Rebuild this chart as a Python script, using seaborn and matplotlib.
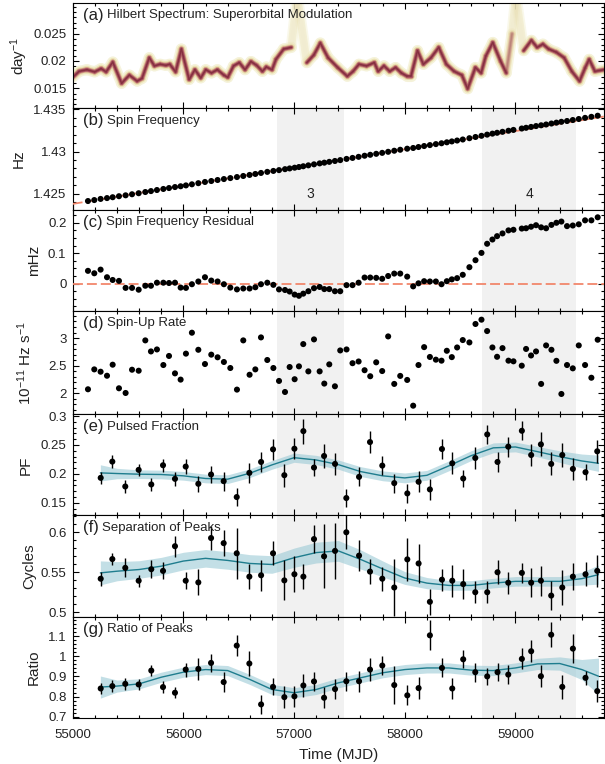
import numpy as np
import pandas as pd
import matplotlib
matplotlib.use("Agg")
import matplotlib.pyplot as plt
import seaborn as sns
from matplotlib.collections import LineCollection
from matplotlib.colors import to_rgba
from matplotlib.ticker import MultipleLocator, FixedLocator, FuncFormatter

# ---------------- data ----------------
# spin timing epochs (MJD) for panels b, c, d
mjd_spin = [55138, 55195, 55252, 55310, 55361, 55418, 55478, 55536, 55596, 55656,
            55707, 55761, 55819, 55870, 55924, 55975, 56023, 56077, 56135, 56195,
            56252, 56309, 56366, 56424, 56484, 56541, 56598, 56650, 56701, 56758,
            56813, 56864, 56918, 56960, 57005, 57044, 57083, 57129, 57180, 57231,
            57273, 57318, 57369, 57417, 57474, 57528, 57583, 57637, 57688, 57742,
            57796, 57850, 57905, 57959, 58022, 58076, 58124, 58175, 58227, 58281,
            58332, 58380, 58425, 58473, 58524, 58584, 58639, 58693, 58744, 58792,
            58834, 58883, 58937, 58982, 59057, 59096, 59141, 59186, 59232, 59277,
            59325, 59370, 59415, 59466, 59518, 59572, 59629, 59686, 59743]

spin_hz = [1.424158, 1.424273, 1.424407, 1.424507, 1.424607, 1.424727, 1.424833, 1.424957, 1.425080, 1.425222,
           1.425332, 1.425458, 1.425582, 1.425691, 1.425808, 1.425901, 1.426003, 1.426131, 1.426265, 1.426408,
           1.426519, 1.426639, 1.426752, 1.426866, 1.426989, 1.427114, 1.427237, 1.427352, 1.427472, 1.427599,
           1.427710, 1.427805, 1.427919, 1.428004, 1.428091, 1.428171, 1.428261, 1.428368, 1.428488, 1.428601,
           1.428684, 1.428781, 1.428884, 1.428987, 1.429129, 1.429245, 1.429371, 1.429504, 1.429614, 1.429729,
           1.429842, 1.429967, 1.430093, 1.430209, 1.430334, 1.430418, 1.430531, 1.430648, 1.430759, 1.430875,
           1.430975, 1.431088, 1.431191, 1.431298, 1.431419, 1.431572, 1.431714, 1.431854, 1.431993, 1.432110,
           1.432211, 1.432326, 1.432452, 1.432550, 1.432715, 1.432800, 1.432902, 1.433004, 1.433095, 1.433189,
           1.433303, 1.433407, 1.433507, 1.433602, 1.433716, 1.433836, 1.433971, 1.434094, 1.434226]

fit_mjd = [55000, 59800]
fit_hz = [1.42382, 1.43413]

spin_resid_mhz = [0.042, 0.034, 0.046, 0.021, 0.012, 0.009, -0.014, -0.014, -0.020, -0.007,
                  -0.007, 0.003, 0.003, 0.002, 0.003, -0.013, -0.014, -0.002, 0.007, 0.021,
                  0.010, 0.007, -0.002, -0.013, -0.019, -0.016, -0.016, -0.012, -0.002, 0.003,
                  -0.004, -0.019, -0.021, -0.026, -0.036, -0.040, -0.033, -0.025, -0.015, -0.011,
                  -0.018, -0.018, -0.025, -0.025, -0.005, -0.005, 0.003, 0.020, 0.020, 0.019,
                  0.016, 0.025, 0.033, 0.033, 0.023, -0.009, 0.001, 0.008, 0.007, 0.007,
                  -0.002, 0.008, 0.014, 0.018, 0.029, 0.054, 0.077, 0.101, 0.131, 0.145,
                  0.156, 0.165, 0.175, 0.177, 0.181, 0.182, 0.187, 0.192, 0.185, 0.182,
                  0.193, 0.200, 0.204, 0.189, 0.191, 0.195, 0.208, 0.208, 0.218]
resid_ref_level = 0.0

spinup_rate = [2.073, 2.433, 2.391, 2.318, 2.518, 2.091, 2.006, 2.427, 2.409, 2.958,
               2.758, 2.794, 2.512, 2.676, 2.361, 2.248, 2.718, 3.097, 2.788, 2.530,
               2.700, 2.652, 2.567, 2.458, 2.067, 2.958, 2.336, 2.433, 3.012, 2.603,
               2.458, 2.224, 2.024, 2.476, 2.255, 2.488, 2.891, 2.397, 2.976, 2.397,
               2.176, 2.524, 2.127, 2.776, 2.794, 2.545, 2.576, 2.418, 2.309, 2.561,
               2.403, 3.030, 2.170, 2.315, 2.242, 1.776, 2.512, 2.836, 2.658, 2.609,
               2.591, 2.770, 2.655, 2.830, 2.964, 2.921, 3.255, 3.333, 3.127, 2.830,
               2.661, 2.818, 2.591, 2.579, 2.500, 2.803, 2.685, 2.758, 2.170, 2.867,
               2.788, 2.588, 1.988, 2.512, 2.452, 2.867, 2.512, 2.282, 2.970]

# pulse-profile epochs for panels e, f, g
mjd_pulse = [55253, 55358, 55475, 55596, 55710, 55816, 55924, 56021, 56135, 56250,
             56364, 56482, 56596, 56702, 56810, 56912, 57003, 57084, 57180, 57271,
             57370, 57472, 57587, 57686, 57797, 57905, 58023, 58125, 58227, 58336,
             58429, 58528, 58637, 58745, 58838, 58935, 59058, 59142, 59230, 59323,
             59423, 59519, 59633, 59739]

pf = [0.1931, 0.2212, 0.1782, 0.2069, 0.1817, 0.2149, 0.1914, 0.2126, 0.1828, 0.1989,
      0.1874, 0.1599, 0.2017, 0.2206, 0.2424, 0.1977, 0.2435, 0.2739, 0.2109, 0.2309,
      0.2172, 0.1582, 0.1948, 0.2550, 0.2143, 0.1840, 0.1662, 0.1863, 0.1731, 0.2430,
      0.2183, 0.1920, 0.2275, 0.2682, 0.2206, 0.2470, 0.2745, 0.2326, 0.2510, 0.2172,
      0.2326, 0.2086, 0.2029, 0.2390]
pf_err = [0.0106, 0.0115, 0.0120, 0.0103, 0.0106, 0.0115, 0.0117, 0.0129, 0.0137, 0.0155,
          0.0163, 0.0160, 0.0178, 0.0180, 0.0178, 0.0200, 0.0178, 0.0215, 0.0150, 0.0200,
          0.0190, 0.0155, 0.0163, 0.0195, 0.0169, 0.0163, 0.0160, 0.0178, 0.0178, 0.0172,
          0.0190, 0.0150, 0.0186, 0.0166, 0.0178, 0.0172, 0.0163, 0.0190, 0.0206, 0.0200,
          0.0206, 0.0192, 0.0143, 0.0200]

sep = [0.5419, 0.5665, 0.5555, 0.5394, 0.5538, 0.5517, 0.5826, 0.5394, 0.5373, 0.5928,
       0.5864, 0.5737, 0.5445, 0.5462, 0.5737, 0.5398, 0.5475, 0.5445, 0.5915, 0.5699,
       0.5767, 0.6000, 0.5708, 0.5508, 0.5419, 0.5309, 0.5661, 0.5610, 0.5130, 0.5407,
       0.5394, 0.5352, 0.5250, 0.5250, 0.5500, 0.5369, 0.5492, 0.5369, 0.5394, 0.5208,
       0.5309, 0.5445, 0.5475, 0.5517]
sep_err = [0.0085, 0.0080, 0.0117, 0.0076, 0.0114, 0.0106, 0.0133, 0.0106, 0.0163, 0.0153,
           0.0165, 0.0320, 0.0153, 0.0197, 0.0148, 0.0250, 0.0222, 0.0160, 0.0170, 0.0400,
           0.0350, 0.0210, 0.0195, 0.0155, 0.0150, 0.0356, 0.0265, 0.0244, 0.0160, 0.0138,
           0.0200, 0.0190, 0.0138, 0.0138, 0.0148, 0.0138, 0.0121, 0.0180, 0.0190, 0.0180,
           0.0220, 0.0170, 0.0148, 0.0200]

ratio = [0.840, 0.852, 0.863, 0.860, 0.929, 0.847, 0.819, 0.934, 0.937, 0.967,
         0.872, 1.053, 0.964, 0.761, 0.848, 0.797, 0.801, 0.855, 0.875, 0.794,
         0.837, 0.876, 0.876, 0.934, 0.954, 0.857, 0.806, 0.842, 1.104, 0.942,
         0.840, 0.985, 0.921, 0.900, 0.921, 0.909, 0.987, 1.025, 0.901, 1.107,
         0.848, 1.038, 0.893, 0.827]
ratio_err = [0.029, 0.031, 0.031, 0.027, 0.029, 0.030, 0.028, 0.035, 0.055, 0.046,
             0.049, 0.052, 0.064, 0.049, 0.042, 0.055, 0.052, 0.059, 0.046, 0.053,
             0.049, 0.048, 0.051, 0.055, 0.049, 0.094, 0.049, 0.055, 0.074, 0.047,
             0.050, 0.045, 0.048, 0.041, 0.044, 0.046, 0.052, 0.054, 0.054, 0.062,
             0.058, 0.072, 0.035, 0.056]

# smooth model curves with their 1-sigma bands
model_mjd = [55250, 55400, 55600, 55800, 56000, 56200, 56400, 56600, 56800, 57000,
             57200, 57400, 57600, 57800, 58000, 58200, 58400, 58600, 58800, 59000,
             59200, 59400, 59600, 59750]
pf_model = [0.2017, 0.2006, 0.1994, 0.1989, 0.1966, 0.1920, 0.1908, 0.2011, 0.2155, 0.2280,
            0.2240, 0.2160, 0.2040, 0.1966, 0.1930, 0.1975, 0.2140, 0.2315, 0.2450, 0.2465,
            0.2384, 0.2298, 0.2223, 0.2183]
pf_band = [0.014, 0.009, 0.0075, 0.0075, 0.0075, 0.0075, 0.0075, 0.0075, 0.0075, 0.008,
           0.008, 0.008, 0.0085, 0.0085, 0.0085, 0.0085, 0.0085, 0.0085, 0.0085, 0.0085,
           0.009, 0.010, 0.012, 0.014]
sep_model = [0.5492, 0.5513, 0.5534, 0.5576, 0.5640, 0.5674, 0.5648, 0.5610, 0.5597, 0.5682,
             0.5746, 0.5767, 0.5661, 0.5542, 0.5428, 0.5364, 0.5335, 0.5335, 0.5364, 0.5386,
             0.5386, 0.5386, 0.5420, 0.5470]
sep_band = [0.015, 0.012, 0.011, 0.011, 0.011, 0.011, 0.011, 0.011, 0.011, 0.012,
            0.013, 0.013, 0.012, 0.010, 0.008, 0.007, 0.006, 0.006, 0.006, 0.006,
            0.006, 0.006, 0.008, 0.012]
ratio_model = [0.847, 0.852, 0.863, 0.896, 0.921, 0.934, 0.929, 0.885, 0.835, 0.819,
               0.835, 0.868, 0.893, 0.918, 0.934, 0.942, 0.942, 0.931, 0.929, 0.942,
               0.962, 0.964, 0.934, 0.901]
ratio_band = [0.055, 0.030, 0.025, 0.025, 0.025, 0.025, 0.025, 0.025, 0.025, 0.025,
              0.025, 0.025, 0.025, 0.025, 0.025, 0.025, 0.025, 0.025, 0.025, 0.025,
              0.028, 0.033, 0.050, 0.090]

# Hilbert spectrum ridge (instantaneous superorbital frequency, day^-1)
hs_mjd = [55000, 55058, 55128, 55198, 55257, 55302, 55362, 55442, 55512, 55582,
          55626, 55692, 55738, 55790, 55842, 55877, 55930, 55982, 56052, 56104,
          56157, 56202, 56254, 56307, 56366, 56401, 56453, 56505, 56557, 56610,
          56662, 56714, 56749, 56801, 56836, 56906, 56975, 57028, 57115, 57178,
          57237, 57307, 57394, 57481, 57533, 57586, 57655, 57725, 57760, 57812,
          57864, 57917, 57969, 58021, 58056, 58115, 58168, 58237, 58307, 58376,
          58446, 58516, 58568, 58638, 58690, 58732, 58795, 58865, 58917, 58969,
          59004, 59074, 59144, 59196, 59248, 59300, 59370, 59440, 59509, 59579,
          59631, 59666, 59718, 59800]
hs_freq = [0.0170, 0.0181, 0.0184, 0.0180, 0.0186, 0.0180, 0.0198, 0.0159, 0.0174, 0.0163,
           0.0168, 0.0206, 0.0191, 0.0194, 0.0192, 0.0194, 0.0180, 0.0222, 0.0166, 0.0184,
           0.0169, 0.0184, 0.0178, 0.0184, 0.0174, 0.0170, 0.0191, 0.0197, 0.0184, 0.0199,
           0.0192, 0.0181, 0.0189, 0.0184, 0.0203, 0.0222, 0.0225, 0.0320, 0.0197, 0.0211,
           0.0233, 0.0206, 0.0188, 0.0172, 0.0181, 0.0194, 0.0191, 0.0197, 0.0181, 0.0191,
           0.0181, 0.0188, 0.0178, 0.0172, 0.0172, 0.0219, 0.0194, 0.0206, 0.0225, 0.0194,
           0.0181, 0.0174, 0.0149, 0.0188, 0.0178, 0.0209, 0.0234, 0.0200, 0.0178, 0.0250,
           0.0320, 0.0219, 0.0238, 0.0225, 0.0231, 0.0222, 0.0216, 0.0206, 0.0181, 0.0163,
           0.0188, 0.0203, 0.0181, 0.0184]
hs_power = [1.0, 1.0, 1.0, 1.0, 1.0, 1.0, 1.0, 1.0, 1.0, 1.0,
            1.0, 1.0, 1.0, 1.0, 1.0, 1.0, 1.0, 1.0, 1.0, 1.0,
            1.0, 1.0, 1.0, 1.0, 1.0, 1.0, 1.0, 1.0, 1.0, 1.0,
            1.0, 1.0, 1.0, 1.0, 1.0, 1.0, 1.0, 0.15, 1.0, 1.0,
            1.0, 1.0, 1.0, 1.0, 1.0, 1.0, 1.0, 1.0, 1.0, 1.0,
            1.0, 1.0, 1.0, 1.0, 1.0, 1.0, 1.0, 1.0, 1.0, 1.0,
            1.0, 1.0, 1.0, 1.0, 1.0, 1.0, 1.0, 1.0, 1.0, 0.7,
            0.15, 1.0, 1.0, 1.0, 1.0, 1.0, 1.0, 1.0, 1.0, 1.0,
            1.0, 1.0, 1.0, 1.0]
hs_ticks = [0.015, 0.02, 0.025]

shade_regions = [(56850, 57450), (58700, 59550)]
shade_labels = ["3", "4"]
shade_label_level = 1.425

panel_letters = ["(a)", "(b)", "(c)", "(d)", "(e)", "(f)", "(g)"]
panel_titles = ["Hilbert Spectrum: Superorbital Modulation", "Spin Frequency",
                "Spin Frequency Residual", "Spin-Up Rate", "Pulsed Fraction",
                "Separation of Peaks", "Ratio of Peaks"]
y_labels = ["day$^{-1}$", "Hz", "mHz", "10$^{-11}$ Hz s$^{-1}$", "PF", "Cycles", "Ratio"]
x_label = "Time (MJD)"

# ---------------- style ----------------
sns.set_theme(style="ticks")
plt.rcParams['font.family'] = ['Liberation Sans', 'DejaVu Sans']
plt.rcParams['mathtext.fontset'] = 'custom'
plt.rcParams['mathtext.rm'] = 'Liberation Sans'
plt.rcParams['mathtext.it'] = 'Liberation Sans:italic'
plt.rcParams['mathtext.default'] = 'regular'

ylims = [(0.0113, 0.0307), (1.4231, 1.4351), (-0.090, 0.242), (1.62, 3.49),
         (0.128, 0.303), (0.494, 0.621), (0.692, 1.195)]
ymajor = [0.005, 0.005, 0.1, 0.5, 0.05, 0.05, 0.1]
yminor = [0.001, 0.001, 0.025, 0.1, 0.01, 0.01, 0.02]
ylabel_cx = [19.3, 18.9, 34.2, 25.0, 26.0, 29.0, 34.0]  # label centre, px from left
heights = [105.5, 101.7, 101.0, 103.3, 101.2, 101.5, 101.3]

W, H = 605, 764
AX_L, AX_R = 72.7, 604.0
fig = plt.figure(figsize=(W / 100, H / 100), dpi=100)
gs = fig.add_gridspec(7, 1, height_ratios=heights, left=AX_L / W, right=AX_R / W,
                      top=1 - 2.8 / H, bottom=1 - 718.3 / H, hspace=0)
axes = []
for i in range(7):
    axes.append(fig.add_subplot(gs[i], sharex=axes[0] if axes else None))

GRAY = '#f1f1f1'
TEAL = '#1f7d8e'
BAND = '#93c6d2'
SALMON = '#f2876c'
PT = dict(color='black', s=19, edgecolor='none', linewidth=0, zorder=5, legend=False)

# ---- (a) Hilbert spectrum ridge ----
ax = axes[0]
pts = np.column_stack([hs_mjd, hs_freq])
segs = np.stack([pts[:-1], pts[1:]], axis=1)
pw = np.array(hs_power)
seg_pw = np.minimum(pw[:-1], pw[1:])
layers = [(8.0, '#f5f2d8', 0.85, 0.25), (5.6, '#ebe1b0', 0.8, 0.4), (3.8, '#d1a083', 0.9, 2.0),
          (2.5, '#aa5361', 1.0, 3.0), (1.1, '#85303f', 1.0, 4.0)]
for lw, col, a0, k in layers:
    cols = [to_rgba(col, a0 * p ** k) for p in seg_pw]
    lc = LineCollection(segs, linewidths=lw, colors=cols, capstyle='round', joinstyle='round', zorder=1)
    ax.add_collection(lc)

# ---- (b) spin frequency ----
ax = axes[1]
sns.lineplot(x=fit_mjd, y=fit_hz, ax=ax, color=SALMON, lw=1.3, linestyle=(0, (5.5, 2.2)), zorder=3)
sns.scatterplot(x=mjd_spin, y=spin_hz, ax=ax, **PT)
for (x0, x1), lab in zip(shade_regions, shade_labels):
    ax.text(0.5 * (x0 + x1), shade_label_level, lab, ha='center', va='center', fontsize=10, color='#222222')

# ---- (c) residual ----
ax = axes[2]
ax.axhline(resid_ref_level, color=SALMON, lw=1.3, linestyle=(0, (5.5, 2.2)), zorder=3)
sns.scatterplot(x=mjd_spin, y=spin_resid_mhz, ax=ax, **PT)

# ---- (d) spin-up rate ----
ax = axes[3]
sns.scatterplot(x=mjd_spin, y=spinup_rate, ax=ax, **PT)

# ---- (e)-(g) pulse profile parameters ----
pulse_sets = [(pf, pf_err, pf_model, pf_band), (sep, sep_err, sep_model, sep_band),
              (ratio, ratio_err, ratio_model, ratio_band)]
for j, (val, err, mod, band) in enumerate(pulse_sets):
    ax = axes[4 + j]
    m = np.array(mod)
    b = np.array(band)
    ax.fill_between(model_mjd, m - b, m + b, color=BAND, alpha=0.55, lw=0, zorder=2)
    sns.lineplot(x=model_mjd, y=mod, ax=ax, color=TEAL, lw=1.0, zorder=3)
    ax.errorbar(mjd_pulse, val, yerr=err, fmt='none', ecolor='black', elinewidth=1.0, capsize=0, zorder=4)
    sns.scatterplot(x=mjd_pulse, y=val, ax=ax, **PT)

# shading of intervals 3 and 4
for ax in axes[1:]:
    for x0, x1 in shade_regions:
        ax.axvspan(x0, x1, color=GRAY, lw=0, zorder=0)


def fmt(v, pos):
    s = f"{v:g}"
    return "0" if s in ("-0", "0") else s


for i, ax in enumerate(axes):
    ax.set_xlim(55000, 59800)
    ax.set_ylim(*ylims[i])
    ax.xaxis.set_major_locator(MultipleLocator(1000))
    ax.xaxis.set_minor_locator(MultipleLocator(200))
    if i == 0:
        ax.yaxis.set_major_locator(FixedLocator(hs_ticks))
    else:
        ax.yaxis.set_major_locator(MultipleLocator(ymajor[i]))
    ax.yaxis.set_minor_locator(MultipleLocator(yminor[i]))
    ax.yaxis.set_major_formatter(FuncFormatter(fmt))
    ax.tick_params(which='both', direction='in', top=True, right=True, color='black', width=0.8,
                   labelcolor='#222222')
    ax.tick_params(which='major', length=4.5, labelsize=9.5)
    ax.tick_params(which='minor', length=2.5)
    ax.tick_params(axis='y', which='major', pad=4.5)
    ax.tick_params(axis='x', which='major', pad=8)
    for sp in ax.spines.values():
        sp.set_color('black')
        sp.set_linewidth(0.8)
    if i < 6:
        ax.tick_params(labelbottom=False)
    ax.set_ylabel(y_labels[i], fontsize=11, color='#222222', va='center')
    ax.yaxis.set_label_coords((ylabel_cx[i] - AX_L) / (AX_R - AX_L), 0.5)
    ax.set_xlabel("")
    t1 = ax.annotate(panel_letters[i], xy=(0, 1), xycoords='axes fraction', xytext=(7.2, -9.0),
                     textcoords='offset points', ha='left', va='center', fontsize=12,
                     color='#222222', zorder=10)
    ax.annotate(panel_titles[i], xy=(1, 0.5), xycoords=t1, xytext=(2.6, 0),
                textcoords='offset points', ha='left', va='center', fontsize=9.5,
                color='#222222', zorder=10)

axes[6].set_xlabel(x_label, fontsize=11, color='#222222', va='center')
axes[6].xaxis.set_label_coords(0.5, -(755 - 718.3) / 101.3)

fig.savefig("out.png", dpi=100)
